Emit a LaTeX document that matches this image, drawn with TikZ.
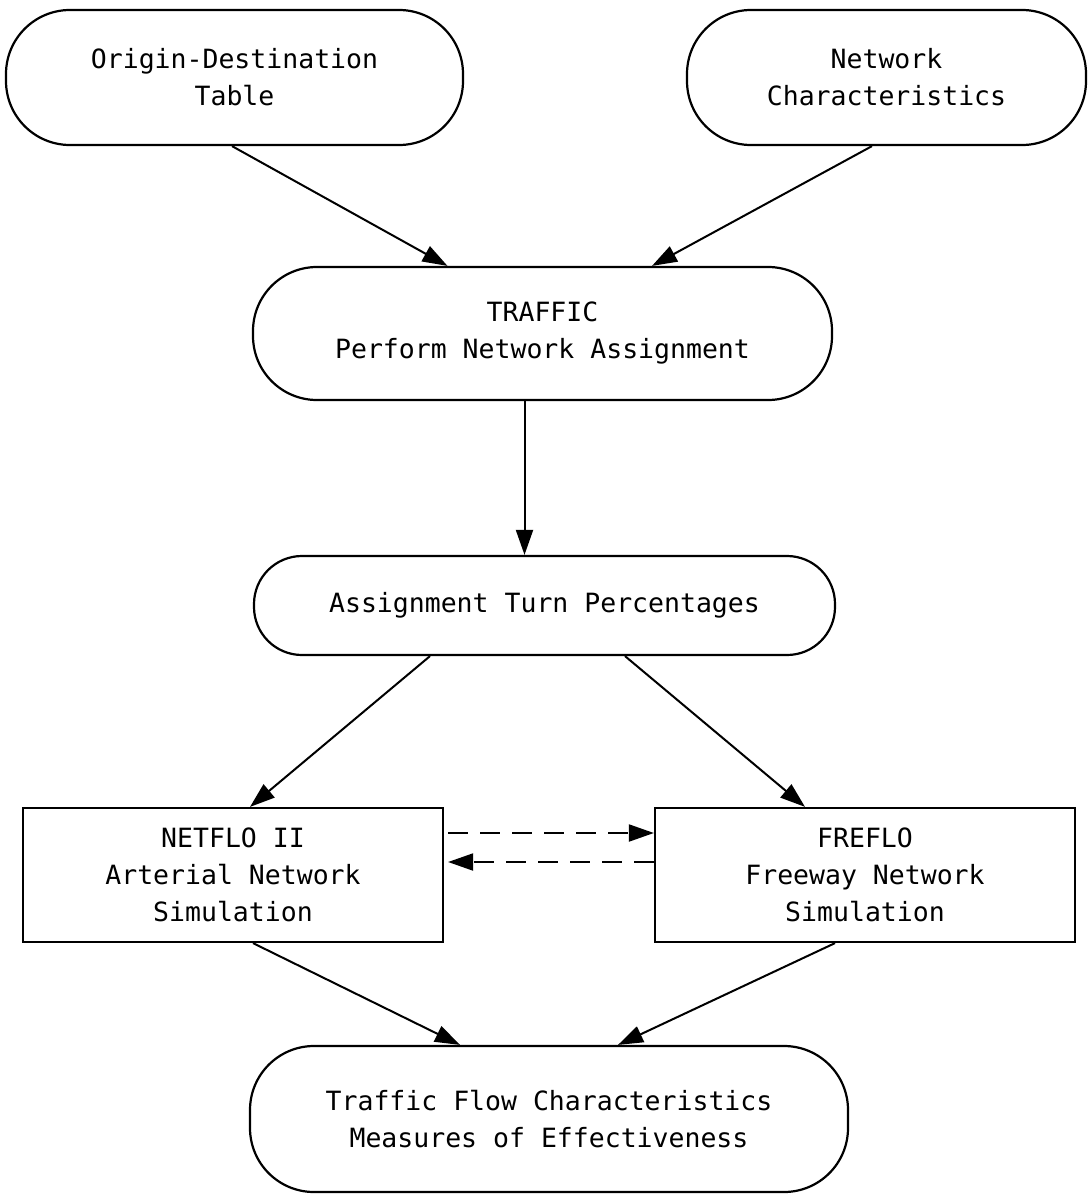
\documentclass[tikz,border=0pt]{standalone}
\usepackage{fontspec}
\newfontfamily\plotfont{DejaVu Sans Mono}
\usetikzlibrary{arrows.meta}
\begin{document}
\begin{tikzpicture}[x=1pt,y=-1pt,
  every node/.style={font=\plotfont\fontsize{26.5}{37}\selectfont, align=center, line width=2.2pt, inner sep=0pt},
  term/.style={draw, rounded corners=64pt},
  termsmall/.style={draw, rounded corners=48pt},
  procbox/.style={draw},
  arr/.style={line width=2pt, -{Triangle[length=25pt,width=17pt]}},
  darr/.style={arr, dash pattern=on 20pt off 12pt},
]
\useasboundingbox (0,0) rectangle (1089,1196);
\node[term, minimum width=457pt, minimum height=135pt] (od) at (234.5,77.5) {Origin-Destination\\Table};
\node[term, minimum width=399pt, minimum height=135pt] (nc) at (886.5,77.5) {Network\\Characteristics};
\node[term, minimum width=579pt, minimum height=133pt] (tr) at (542.5,333.5) {TRAFFIC\\Perform Network Assignment};
\node[termsmall, minimum width=581pt, minimum height=99pt] (as) at (544.5,605.5) {Assignment Turn Percentages};
\node[procbox, minimum width=420pt, minimum height=134pt] (ne) at (233,875) {NETFLO II\\Arterial Network\\Simulation};
\node[procbox, minimum width=420pt, minimum height=134pt] (fr) at (865,875) {FREFLO\\Freeway Network\\Simulation};
\node[term, minimum width=598pt, minimum height=146pt] (mo) at (549,1119) {Traffic Flow Characteristics\\Measures of Effectiveness};

\draw[arr] ([xshift=-2.5pt]od.south) -- ([xshift=-95pt]tr.north);
\draw[arr] ([xshift=-14.5pt]nc.south) -- ([xshift=109.5pt]tr.north);
\draw[arr] ([xshift=-18pt]tr.south) -- ([xshift=-18pt]tr.south |- as.north);
\draw[arr] ([xshift=-114.5pt]as.south) -- ([xshift=17pt]ne.north);
\draw[arr] ([xshift=80.5pt]as.south) -- ([xshift=-60pt]fr.north);
\draw[darr] ([xshift=4pt,yshift=42pt]ne.east) -- ([yshift=42pt]ne.east -| fr.west);
\draw[darr] ([yshift=13pt]fr.west) -- ([xshift=4pt,yshift=13pt]fr.west -| ne.east);
\draw[arr] ([xshift=20pt]ne.south) -- ([xshift=-89pt]mo.north);
\draw[arr] ([xshift=-30pt]fr.south) -- ([xshift=69pt]mo.north);
\end{tikzpicture}
\end{document}
